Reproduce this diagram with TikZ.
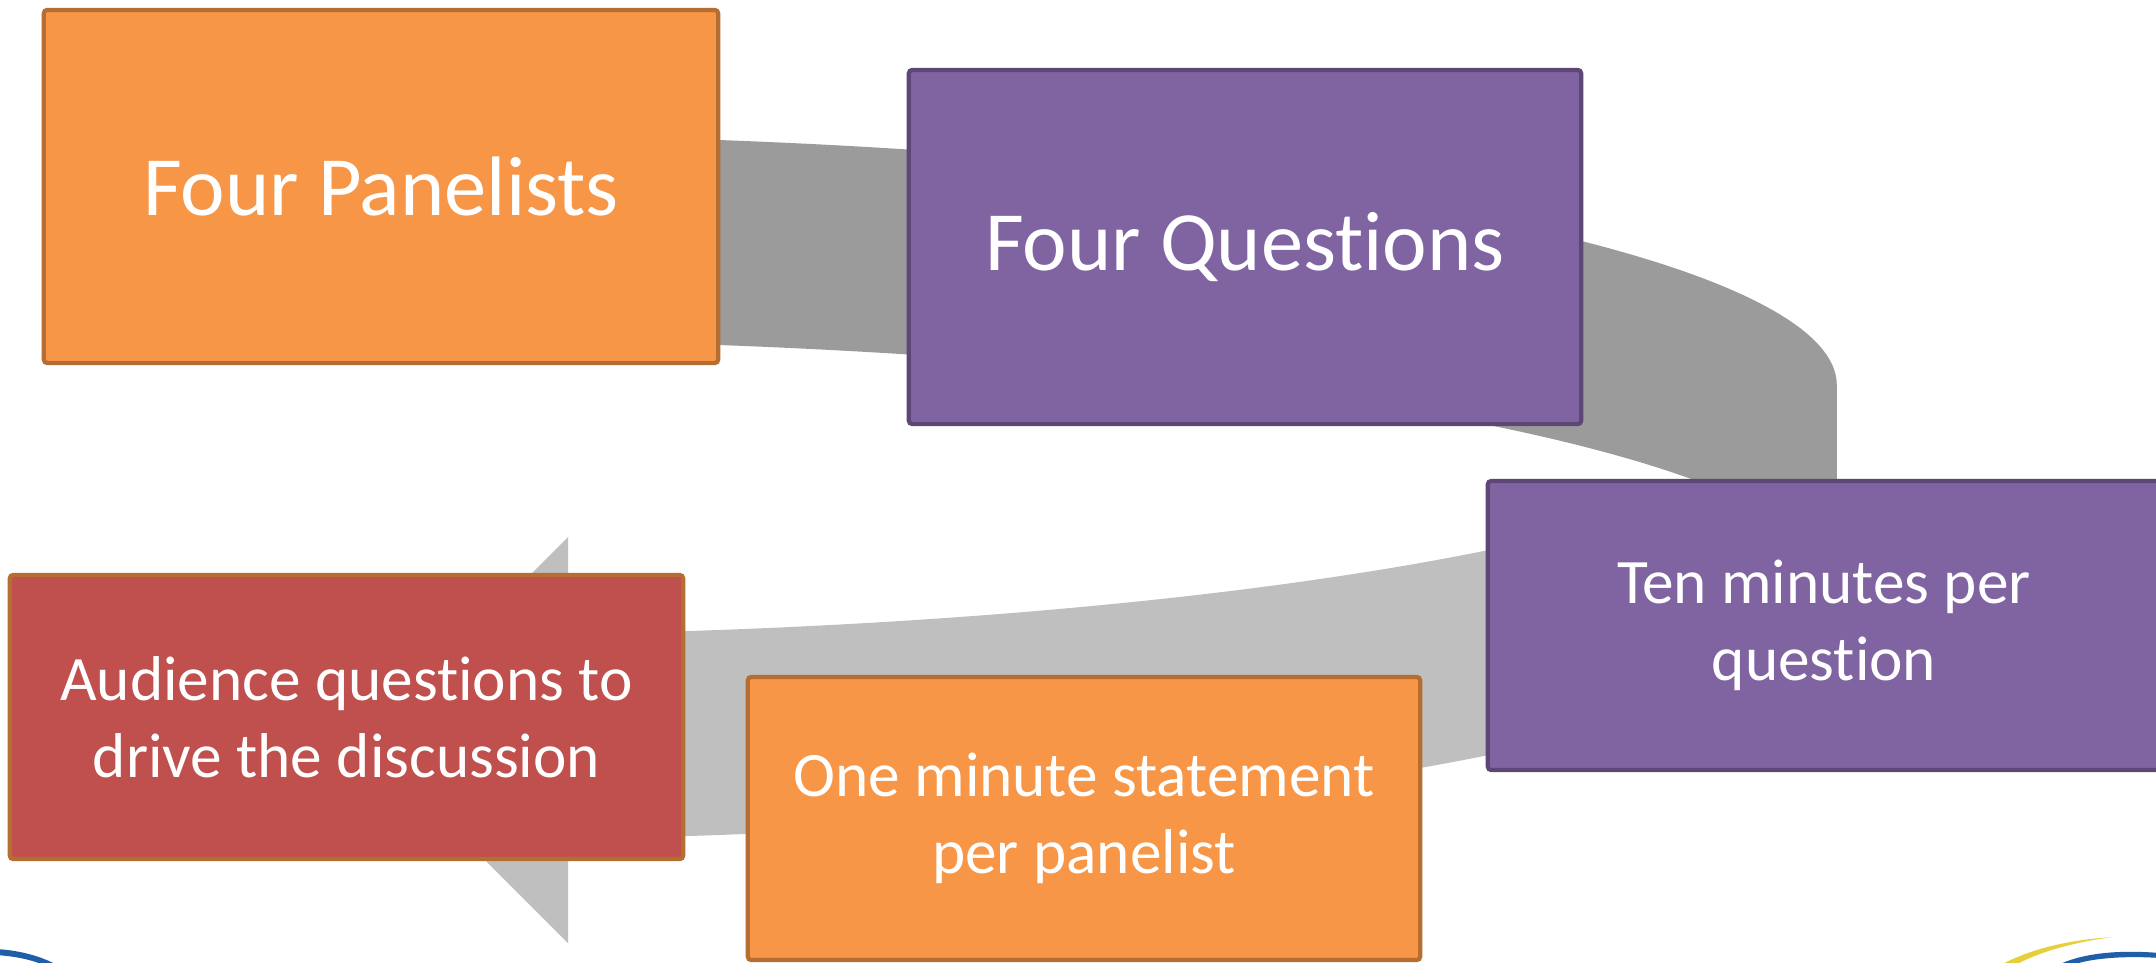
\documentclass[tikz,border=0pt]{standalone}
\usepackage{fontspec}
\setmainfont{Carlito}[Ligatures=NoCommon]
\definecolor{orfill}{HTML}{F79646}
\definecolor{orline}{HTML}{B66D31}
\definecolor{pufill}{HTML}{8064A2}
\definecolor{puline}{HTML}{5C4776}
\definecolor{rdfill}{HTML}{C0504D}
\definecolor{darkband}{HTML}{9B9B9B}
\definecolor{lightband}{HTML}{BFBFBF}
\definecolor{logoblue}{HTML}{1F5FA8}
\definecolor{logoyellow}{HTML}{E6CF3A}
\begin{document}
\begin{tikzpicture}[x=0.01cm,y=0.01cm,
  box/.style={rectangle, rounded corners=1pt, line width=1.2pt, text=white, align=center, inner sep=0pt},
  bigtext/.style={font=\fontsize{24}{29}\selectfont},
  smalltext/.style={font=\fontsize{18}{22}\selectfont},
  orangebox/.style={box, fill=orfill, draw=orline},
  purplebox/.style={box, fill=pufill, draw=puline},
  redbox/.style={box, fill=rdfill, draw=orline},
  ell/.style={x radius=14cm, y radius=2.5cm}
]
\useasboundingbox (0,0) rectangle (2156,-963);
\fill[white] (0,0) rectangle (2156,-963);
\coordinate (c1) at (436,-385);
\coordinate (c2) at (436,-590);
% back (dark) band
\fill[darkband] ([shift={(c1)}]95:14cm and 2.5cm) arc[start angle=95, end angle=0, ell]
  -- ([shift={(c2)}]0:14cm and 2.5cm) arc[start angle=0, end angle=95, ell] -- cycle;
% front (light) band
\fill[lightband] ([shift={(c1)}]-33.75:14cm and 2.5cm) arc[start angle=-33.75, end angle=-84.6, ell]
  -- ([shift={(c2)}]-84.6:14cm and 2.5cm) arc[start angle=-84.6, end angle=-33.75, ell] -- cycle;
% arrow head
\coordinate (ahtop) at (568,-537);
\coordinate (ahtip) at (365,-740);
\coordinate (ahbot) at (568,-943);
\fill[lightband] (ahtop) -- (ahtip) -- (ahbot) -- cycle;
% boxes
\node[orangebox, bigtext, minimum width=6.74cm, minimum height=3.53cm] (panel) at (381,-186.5) {Four Panelists};
\node[purplebox, bigtext, minimum width=6.72cm, minimum height=3.54cm] (quest) at (1245,-247) {Four Quest\kern0pt ions};
\node[purplebox, smalltext, minimum width=6.72cm, minimum height=2.89cm] (ten) at (1824,-625.5) {Ten minutes per\\quest\kern0pt ion};
\node[redbox, smalltext, minimum width=6.73cm, minimum height=2.84cm] (aud) at (346.5,-717) {Audience questions to\\drive the discussion};
\node[orangebox, smalltext, minimum width=6.72cm, minimum height=2.83cm] (one) at (1084,-818.5) {One minute statement\\per panelist};
% partial logos at the bottom corners
\fill[logoblue] (-5,-949) .. controls (20,-950) and (45,-957) .. (62,-968) -- (50,-968) .. controls (35,-960) and (15,-956) .. (-5,-955) -- cycle;
\fill[logoyellow] (1995,-968) .. controls (2030,-948) and (2070,-940) .. (2112,-937) .. controls (2070,-943) and (2035,-953) .. (2010,-968) -- cycle;
\fill[logoblue] (2052,-968) .. controls (2075,-955) and (2110,-949) .. (2160,-953) -- (2160,-958) .. controls (2115,-955) and (2080,-960) .. (2065,-968) -- cycle;
\end{tikzpicture}
\end{document}
